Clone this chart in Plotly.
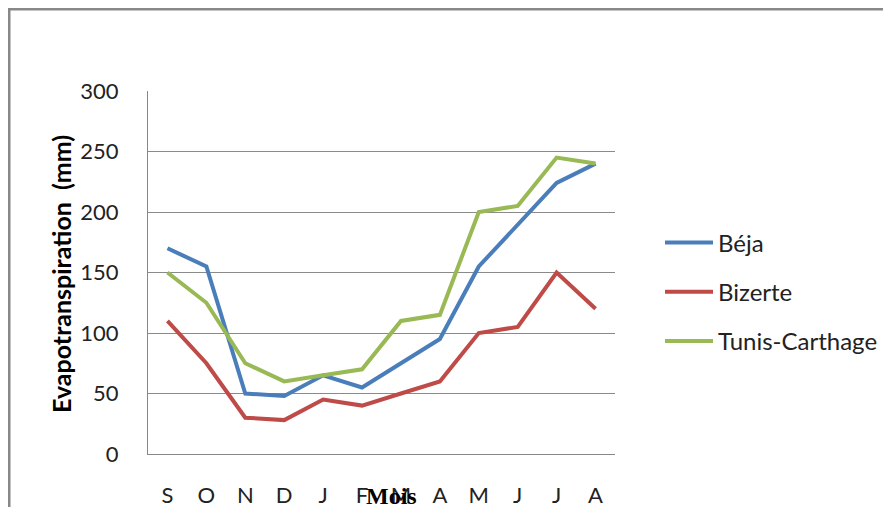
import plotly.graph_objects as go

months = ["S", "O", "N", "D", "J", "F", "M", "A", "M", "J", "J", "A"]
beja = [170, 155, 50, 48, 65, 55, 75, 95, 155, 190, 224, 240]
bizerte = [110, 75, 30, 28, 45, 40, 50, 60, 100, 105, 150, 120]
tunis = [150, 125, 75, 60, 65, 70, 110, 115, 200, 205, 245, 240]
series_names = ["Béja", "Bizerte", "Tunis-Carthage"]
y_ticks = [0, 50, 100, 150, 200, 250, 300]

colors = ["#4A7EBB", "#BE4B48", "#98B954"]
x = list(range(len(months)))

fig = go.Figure()
for i, (name, vals) in enumerate(zip(series_names, [beja, bizerte, tunis])):
    fig.add_trace(go.Scatter(
        x=x, y=vals, mode="lines", name=name,
        line=dict(color=colors[i], width=4),
        legendgroup=name,
    ))

# page offset (browser body margin, 8px on each side)
OX, OY = 8, 8
W, H = 891 - 2 * OX, 515 - 2 * OY
# plot area in screenshot pixels
L, R, T, B = 148, 615, 91, 454
PW, PH = R - L, B - T


def px(xs):
    return (xs - L) / PW


def py(ys):
    return (B - ys) / PH


FONT = "Lato, Open Sans, sans-serif"
fig.update_layout(
    width=W, height=H,
    margin=dict(l=L - OX, r=W - (R - OX), t=T - OY, b=H - (B - OY), pad=0),
    plot_bgcolor="white", paper_bgcolor="white",
    font=dict(family=FONT, size=22, color="#222"),
    showlegend=True,
    legend=dict(
        xref="container", yref="container",
        x=(660 - OX) / W, xanchor="left",
        y=(H - (292 - OY)) / H, yanchor="middle",
        traceorder="grouped", tracegroupgap=15,
        itemwidth=48,
        font=dict(size=24, family=FONT, color="#222"),
        bgcolor="rgba(0,0,0,0)",
    ),
    xaxis=dict(
        tickmode="array", tickvals=x, ticktext=months,
        range=[-0.5, len(months) - 0.5],
        showgrid=False, showline=True, linecolor="#888", linewidth=1,
        ticks="outside", ticklen=22, tickcolor="rgba(0,0,0,0)",
        zeroline=False, fixedrange=True, automargin=False,
    ),
    yaxis=dict(
        range=[0, 300], tickvals=y_ticks,
        showgrid=True, gridcolor="#8a8a8a", gridwidth=1,
        showline=True, linecolor="#888", linewidth=1,
        ticks="outside", ticklen=24, tickcolor="rgba(0,0,0,0)",
        zeroline=False, fixedrange=True, automargin=False,
    ),
    annotations=[
        dict(text="<b>Evapotranspiration  (mm)</b>", textangle=-90,
             xref="paper", yref="paper",
             x=px(61), y=py(274), xanchor="center", yanchor="middle",
             showarrow=False,
             font=dict(family=FONT, size=25, color="#000")),
        dict(text="<b>Mois</b>", xref="paper", yref="paper",
             x=px(391), y=py(496),
             xanchor="center", yanchor="middle", showarrow=False,
             font=dict(family="Liberation Serif, serif", size=24, color="#000")),
    ],
    shapes=[
        dict(type="line", xref="paper", yref="paper",
             x0=px(9), x1=px(9), y0=py(9), y1=py(530),
             line=dict(color="#888", width=3)),
        dict(type="line", xref="paper", yref="paper",
             x0=px(8), x1=px(900), y0=py(9), y1=py(9),
             line=dict(color="#888", width=3)),
    ],
)

fig.write_html("out.html")
